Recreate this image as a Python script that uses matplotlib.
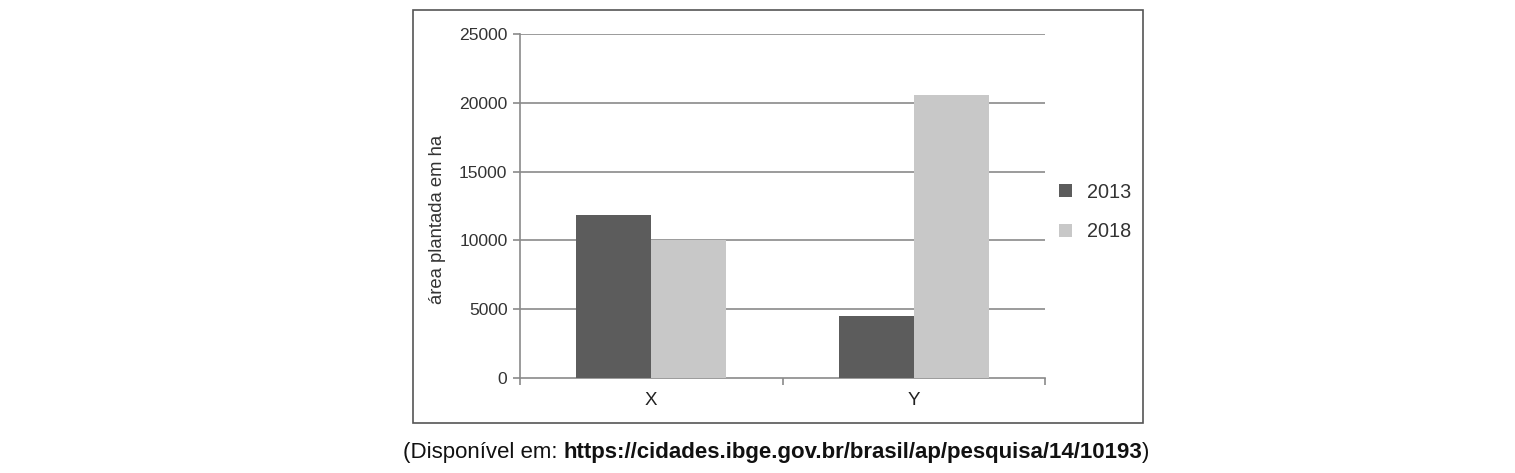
import matplotlib
matplotlib.use('Agg')
from matplotlib import pyplot as plt
from matplotlib.patches import Rectangle
import numpy as np

categories = ['X', 'Y']
years = ['2013', '2018']
area_2013 = [11850, 4500]
area_2018 = [10000, 20600]
y_ticks = [0, 5000, 10000, 15000, 20000, 25000]
ylabel = 'área plantada em ha'
source_prefix = '(Disponível em: '
source_url = 'https://cidades.ibge.gov.br/brasil/ap/pesquisa/14/10193'
source_suffix = ')'

colors = ['#5c5c5c', '#c8c8c8']
line_gray = '#8a8a8a'

plt.rcParams['font.family'] = ['Liberation Sans', 'DejaVu Sans']

W, H = 1515, 473
fig = plt.figure(figsize=(W / 100, H / 100), dpi=100)


def fx(px):
    return px / W


def fy(py):
    return 1 - py / H


# outer frame around the chart
fig.patches.append(Rectangle((fx(413), fy(423)), fx(1143) - fx(413), fy(10) - fy(423),
                             transform=fig.transFigure, fill=False,
                             edgecolor='#555555', linewidth=1.2))

ax = fig.add_axes([fx(520), fy(378), fx(1045) - fx(520), fy(34) - fy(378)])

x = np.arange(len(categories))
width = 0.285
h1 = ax.bar(x - width / 2, area_2013, width=width, color=colors[0], edgecolor='none', zorder=3)
h2 = ax.bar(x + width / 2, area_2018, width=width, color=colors[1], edgecolor='none', zorder=3)

ax.set_xlim(-0.5, 1.5)
ax.set_ylim(0, 25000)
ax.set_yticks(y_ticks)
ax.set_yticklabels([str(t) for t in y_ticks], fontsize=12.6, color='#333333')
for t in y_ticks[1:]:
    ax.axhline(t, color=line_gray, lw=1.2, zorder=1)

ax.set_xticks([-0.5, 0.5, 1.5], minor=False)
ax.set_xticklabels([])
ax.set_xticks(x, minor=True)
ax.set_xticklabels(categories, minor=True, fontsize=13.5, color='#222222')
ax.tick_params(axis='x', which='minor', length=0, pad=10)
ax.tick_params(axis='x', which='major', length=5, width=1.2, color=line_gray, direction='out')
ax.tick_params(axis='y', length=5, width=1.2, color=line_gray, direction='out', pad=4)

for s in ['top', 'right']:
    ax.spines[s].set_visible(False)
for s in ['left', 'bottom']:
    ax.spines[s].set_color(line_gray)
    ax.spines[s].set_linewidth(1.2)

fig.text(fx(438), fy(219), ylabel, rotation=90, ha='center', va='center',
         fontsize=13.3, color='#333333')

leg = fig.legend([h1, h2], years, loc='center left',
                 bbox_to_anchor=(fx(1041), fy(212)), frameon=False,
                 fontsize=14.3, handlelength=0.65, handleheight=0.65,
                 labelspacing=1.05, handletextpad=0.75)
for t in leg.get_texts():
    t.set_color('#333333')

# source line: normal text + bold url
fig.canvas.draw()
renderer = fig.canvas.get_renderer()
parts = [(source_prefix, 'normal'), (source_url, 'bold'), (source_suffix, 'normal')]
texts = []
for s, w in parts:
    texts.append(fig.text(0, fy(452), s, fontsize=16, fontweight=w,
                          ha='left', va='center', color='#111111'))
widths = [t.get_window_extent(renderer).width for t in texts]
start = 776 - sum(widths) / 2
pos = start
for t, w in zip(texts, widths):
    t.set_x(pos / W)
    pos += w

fig.savefig('out.png', dpi=100)
plt.close()
